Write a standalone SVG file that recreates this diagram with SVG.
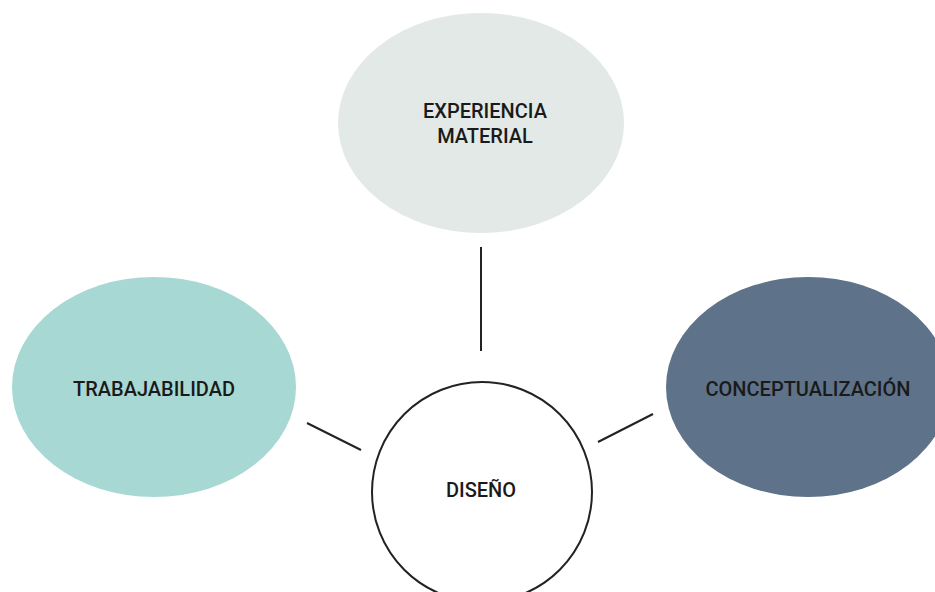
<svg xmlns="http://www.w3.org/2000/svg" width="935" height="592" viewBox="0 0 935 592">
<style>
.lbl{font-family:Roboto,"Liberation Sans",sans-serif;font-size:20px;font-weight:500;fill:#1a1a1a;text-anchor:middle}
.conn line{stroke:#222;stroke-width:2}
</style>
<rect width="935" height="592" fill="#fff"/>
<g id="connectors" class="conn">
<line x1="481" y1="247" x2="481" y2="351"/>
<line x1="307" y1="423" x2="361" y2="450"/>
<line x1="653" y1="414" x2="598" y2="442"/>
</g>
<g id="experiencia">
<ellipse cx="481" cy="123" rx="143" ry="110" fill="#e2e9e6"/>
<text class="lbl" x="485" y="118">EXPERIENCIA</text>
<text class="lbl" x="485" y="143">MATERIAL</text>
</g>
<g id="trabajabilidad">
<ellipse cx="154" cy="387" rx="142" ry="110" fill="#a7d8d4"/>
<text class="lbl" x="154" y="396">TRABAJABILIDAD</text>
</g>
<g id="conceptualizacion">
<ellipse cx="808" cy="387" rx="142" ry="110" fill="#5e7289"/>
<text class="lbl" x="808" y="396">CONCEPTUALIZACIÓN</text>
</g>
<g id="diseno">
<circle cx="482" cy="492" r="110" fill="#fff" stroke="#222" stroke-width="2"/>
<text class="lbl" x="481" y="497">DISEÑO</text>
</g>
</svg>
